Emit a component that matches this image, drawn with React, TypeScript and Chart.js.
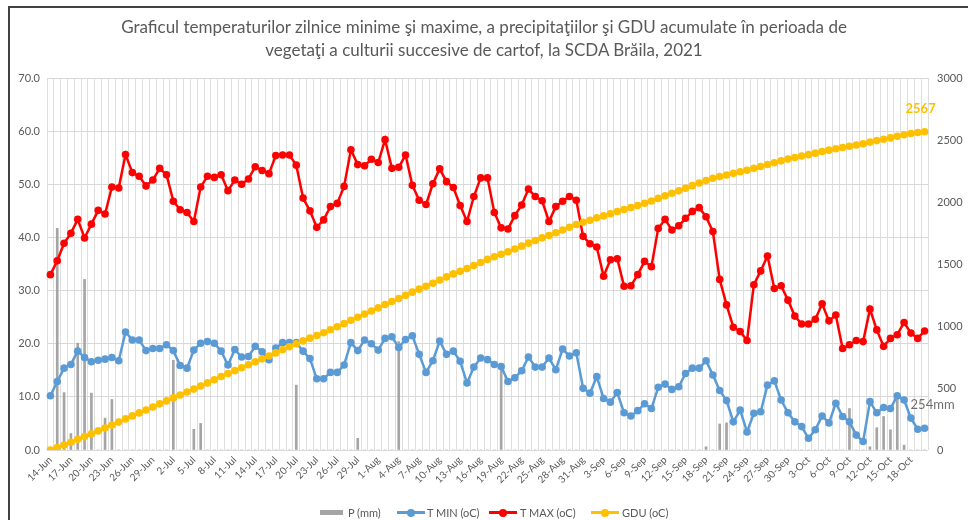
import React, { useEffect, useRef } from "react";
import { Chart, registerables } from "chart.js";

Chart.register(...registerables);

const TITLE_1 =
  "Graficul temperaturilor zilnice minime şi maxime, a precipitaţiilor şi GDU acumulate în perioada de";
const TITLE_2 = "vegetaţi a culturii succesive de cartof, la SCDA Brăila, 2021";

const dates = [
  "14-Jun", "15-Jun", "16-Jun", "17-Jun", "18-Jun", "19-Jun", "20-Jun", "21-Jun", "22-Jun", "23-Jun",
  "24-Jun", "25-Jun", "26-Jun", "27-Jun", "28-Jun", "29-Jun", "30-Jun",
  "1-Jul", "2-Jul", "3-Jul", "4-Jul", "5-Jul", "6-Jul", "7-Jul", "8-Jul", "9-Jul", "10-Jul",
  "11-Jul", "12-Jul", "13-Jul", "14-Jul", "15-Jul", "16-Jul", "17-Jul", "18-Jul", "19-Jul", "20-Jul",
  "21-Jul", "22-Jul", "23-Jul", "24-Jul", "25-Jul", "26-Jul", "27-Jul", "28-Jul", "29-Jul", "30-Jul", "31-Jul",
  "1-Aug", "2-Aug", "3-Aug", "4-Aug", "5-Aug", "6-Aug", "7-Aug", "8-Aug", "9-Aug", "10-Aug",
  "11-Aug", "12-Aug", "13-Aug", "14-Aug", "15-Aug", "16-Aug", "17-Aug", "18-Aug", "19-Aug", "20-Aug",
  "21-Aug", "22-Aug", "23-Aug", "24-Aug", "25-Aug", "26-Aug", "27-Aug", "28-Aug", "29-Aug", "30-Aug", "31-Aug",
  "1-Sep", "2-Sep", "3-Sep", "4-Sep", "5-Sep", "6-Sep", "7-Sep", "8-Sep", "9-Sep", "10-Sep",
  "11-Sep", "12-Sep", "13-Sep", "14-Sep", "15-Sep", "16-Sep", "17-Sep", "18-Sep", "19-Sep", "20-Sep",
  "21-Sep", "22-Sep", "23-Sep", "24-Sep", "25-Sep", "26-Sep", "27-Sep", "28-Sep", "29-Sep", "30-Sep",
  "1-Oct", "2-Oct", "3-Oct", "4-Oct", "5-Oct", "6-Oct", "7-Oct", "8-Oct", "9-Oct", "10-Oct",
  "11-Oct", "12-Oct", "13-Oct", "14-Oct", "15-Oct", "16-Oct", "17-Oct", "18-Oct", "19-Oct", "20-Oct",
];

// P (mm)
const precip = [
  0, 41.7, 10.8, 3.1, 20.1, 32.1, 10.7, 0, 6.0, 9.5, 0, 0, 0, 0, 0, 0, 0,
  0, 16.9, 0, 0, 3.9, 5.0, 0, 0, 0, 0, 0, 0, 0, 0, 0, 0, 0, 0, 0, 12.2, 0, 0, 0, 0, 0, 0, 0, 0, 2.2, 0, 0,
  0, 0, 0, 20.4, 0, 0, 0, 0, 0, 0, 0, 0, 0, 0, 0, 0, 0, 0, 15.4, 0, 0, 0, 0, 0, 0, 0, 0, 0, 0, 0, 0,
  0, 0, 0, 0, 0, 0, 0, 0, 0, 0, 0, 0, 0, 0, 0, 0, 0, 0.6, 0, 4.9, 5.1, 0, 0, 0, 0, 0, 0, 0, 0, 0,
  0, 0, 0, 0, 0, 0, 0, 0, 7.8, 0, 0, 0.6, 4.2, 6.3, 3.8, 10.4, 0.9, 0, 0, 0,
];

// T MIN (oC)
const tMin = [
  10.2, 12.9, 15.4, 16.1, 18.6, 17.4, 16.6, 16.9, 17.1, 17.4, 16.8, 22.2, 20.7, 20.7, 18.7, 19.1, 19.1,
  19.8, 18.7, 15.9, 15.4, 18.8, 20.1, 20.4, 20.1, 18.6, 16.0, 18.9, 17.5, 17.6, 19.5, 18.5, 17.0, 19.2,
  20.2, 20.2, 20.2, 18.6, 17.2, 13.4, 13.4, 14.6, 14.6, 16.0, 20.2, 18.7, 20.7, 20.0,
  18.8, 21.0, 21.3, 19.3, 20.8, 21.5, 18.0, 14.6, 16.8, 20.5, 18.0, 18.6, 16.7, 12.6, 15.6, 17.3, 17.0,
  16.1, 15.7, 12.9, 13.6, 14.9, 17.5, 15.6, 15.6, 17.3, 15.1, 19.0, 17.7, 18.3, 11.6,
  10.7, 13.8, 9.7, 9.0, 10.8, 7.0, 6.4, 7.4, 8.7, 7.8, 11.8, 12.4, 11.4, 11.9, 14.4, 15.4, 15.4, 16.8,
  14.1, 11.2, 9.3, 5.3, 7.5, 3.4, 6.9, 7.2, 12.2, 13.0, 9.4, 7.0,
  5.3, 4.4, 2.2, 3.8, 6.4, 5.1, 8.8, 6.3, 5.3, 2.8, 1.6, 9.1, 7.0, 8.0, 7.8, 10.2, 9.4, 6.0, 3.9, 4.1,
];

// T MAX (oC)
const tMax = [
  33.0, 35.6, 38.9, 40.8, 43.4, 39.9, 42.5, 45.1, 44.4, 49.5, 49.3, 55.6, 52.2, 51.5, 49.7, 50.8, 53.0,
  51.8, 46.8, 45.2, 44.7, 43.0, 49.5, 51.5, 51.3, 51.8, 48.8, 50.8, 50.0, 51.0, 53.3, 52.6, 52.0, 55.4,
  55.5, 55.5, 53.6, 47.4, 45.0, 41.9, 43.3, 45.8, 46.4, 49.6, 56.5, 53.7, 53.5, 54.7,
  54.1, 58.4, 53.0, 53.2, 55.5, 49.8, 47.0, 46.2, 50.1, 52.9, 50.5, 49.4, 46.0, 43.0, 47.7, 51.2, 51.2,
  44.7, 41.8, 41.6, 44.1, 46.1, 49.1, 47.7, 46.9, 43.0, 45.8, 46.8, 47.7, 47.0, 40.2,
  38.8, 38.2, 32.7, 35.8, 36.0, 30.8, 30.9, 33.0, 35.5, 34.5, 41.7, 43.4, 41.4, 42.2, 43.6, 44.9, 45.6,
  43.9, 41.1, 32.1, 27.3, 23.1, 22.3, 20.6, 31.1, 33.7, 36.5, 30.4, 30.9, 28.2,
  25.2, 23.7, 23.7, 24.6, 27.5, 24.3, 25.4, 19.1, 19.8, 20.6, 20.4, 26.5, 22.6, 19.5, 21.0, 21.7, 24.0,
  22.0, 21.0, 22.4,
];

// GDU (oC), accumulated
const gdu = [
  0, 19, 40, 62, 86, 108, 130, 154, 177, 201, 225, 251, 275, 299, 323, 347, 372,
  396, 420, 444, 468, 491, 516, 541, 567, 593, 616, 640, 663, 687, 711, 735, 758, 783,
  808, 833, 857, 880, 902, 923, 946, 970, 994, 1019, 1046, 1071, 1096, 1121,
  1146, 1173, 1197, 1221, 1248, 1273, 1297, 1320, 1345, 1371, 1396, 1420, 1442, 1463, 1487, 1512, 1537,
  1559, 1579, 1599, 1621, 1644, 1668, 1690, 1711, 1730, 1752, 1774, 1796, 1818, 1836,
  1853, 1872, 1888, 1905, 1923, 1939, 1955, 1972, 1990, 2008, 2029, 2050, 2070, 2090, 2111, 2132, 2153,
  2173, 2191, 2205, 2218, 2231, 2244, 2256, 2272, 2286, 2302, 2317, 2332, 2346,
  2359, 2371, 2382, 2394, 2407, 2418, 2430, 2440, 2450, 2460, 2469, 2483, 2495, 2506, 2517, 2530, 2542,
  2552, 2560, 2567,
];

const precipTotalLabel = "254mm";

const seriesNames = ["P (mm)", "T MIN (oC)", "T MAX (oC)", "GDU (oC)"];
const seriesColors = ["#a5a5a5", "#5b9bd5", "#ff0000", "#ffc000"];

const FONT = "Lato, 'Open Sans', sans-serif";
const TEXT = "#595959";

const endLabels = {
  id: "endLabels",
  afterDatasetsDraw(chart: any) {
    const { ctx, scales } = chart;
    const last = gdu.length - 1;
    const x = scales.x.getPixelForValue(last);
    const yG = scales.y1.getPixelForValue(gdu[last]);
    ctx.save();
    ctx.textAlign = "center";
    ctx.textBaseline = "middle";
    ctx.font = `bold 13px ${FONT}`;
    ctx.fillStyle = "#ffc000";
    ctx.fillText(String(gdu[last]), x - 4, yG - 23);
    ctx.font = `13px ${FONT}`;
    ctx.fillStyle = "#707070";
    ctx.fillText(precipTotalLabel, x + 8, scales.y.getPixelForValue(8.5));
    ctx.restore();
  },
};

export default function App() {
  const ref = useRef<HTMLCanvasElement>(null);

  useEffect(() => {
    const chart = new Chart(ref.current as HTMLCanvasElement, {
      type: "bar",
      data: {
        labels: dates,
        datasets: [
          {
            type: "bar",
            label: seriesNames[0],
            data: precip,
            backgroundColor: seriesColors[0],
            borderWidth: 0,
            barThickness: 2,
            yAxisID: "y",
            order: 4,
          },
          {
            type: "line",
            label: seriesNames[1],
            data: tMin,
            borderColor: seriesColors[1],
            backgroundColor: seriesColors[1],
            borderWidth: 2.5,
            pointRadius: 3.8,
            pointBorderWidth: 0,
            tension: 0,
            yAxisID: "y",
            order: 3,
          },
          {
            type: "line",
            label: seriesNames[2],
            data: tMax,
            borderColor: seriesColors[2],
            backgroundColor: seriesColors[2],
            borderWidth: 2.5,
            pointRadius: 3.8,
            pointBorderWidth: 0,
            tension: 0,
            yAxisID: "y",
            order: 2,
          },
          {
            type: "line",
            label: seriesNames[3],
            data: gdu,
            borderColor: seriesColors[3],
            backgroundColor: seriesColors[3],
            borderWidth: 3,
            pointRadius: 3.8,
            pointBorderWidth: 0,
            tension: 0,
            yAxisID: "y1",
            order: 1,
          },
        ],
      } as any,
      options: {
        animation: false,
        responsive: false,
        maintainAspectRatio: false,
        layout: { padding: { top: 78, left: 7, right: 0, bottom: 25 } },
        plugins: {
          legend: { display: false },
          title: { display: false },
          tooltip: { enabled: false },
        },
        scales: {
          x: {
            offset: true,
            grid: { offset: true, color: "#dedede", drawTicks: false, lineWidth: 1 },
            border: { display: false },
            ticks: {
              autoSkip: false,
              minRotation: 45,
              maxRotation: 45,
              padding: 4,
              color: TEXT,
              font: { size: 10, family: FONT },
              callback: (_v: any, i: number) => (i % 3 === 0 ? dates[i] : ""),
            },
            afterFit: (s: any) => {
              s.height = 45;
            },
          },
          y: {
            position: "left",
            min: 0,
            max: 70,
            grid: { color: "#d9d9d9", drawTicks: false },
            border: { display: false },
            ticks: {
              stepSize: 10,
              padding: 7,
              color: TEXT,
              font: { size: 11, family: FONT },
              callback: (v: any) => Number(v).toFixed(1),
            },
            afterFit: (s: any) => {
              s.width = 40;
            },
          },
          y1: {
            position: "right",
            min: 0,
            max: 3000,
            grid: { display: false, drawTicks: false },
            border: { display: false },
            ticks: {
              stepSize: 500,
              padding: 9,
              color: TEXT,
              font: { size: 11, family: FONT },
              callback: (v: any) => String(v),
            },
            afterFit: (s: any) => {
              s.width = 40;
            },
          },
        },
      } as any,
      plugins: [endLabels],
    });
    return () => chart.destroy();
  }, []);

  const legendText: React.CSSProperties = {
    position: "absolute",
    top: 505,
    fontSize: 11,
    lineHeight: "16px",
    color: TEXT,
    whiteSpace: "nowrap",
  };
  const lineSym = (left: number, color: string) => (
    <div style={{ position: "absolute", left, top: 511, width: 28, height: 3, background: color }}>
      <div
        style={{
          position: "absolute",
          left: 10,
          top: -2.5,
          width: 8,
          height: 8,
          borderRadius: 4,
          background: color,
        }}
      />
    </div>
  );

  return (
    <div
      style={{
        position: "absolute",
        left: 0,
        top: 0,
        width: 968,
        height: 520,
        overflow: "hidden",
        background: "#ffffff",
        fontFamily: FONT,
      }}
    >
      <div
        style={{
          position: "absolute",
          left: 8,
          top: 6,
          width: 980,
          height: 540,
          borderLeft: "2px solid #404040",
          borderTop: "2px solid #404040",
        }}
      />
      <canvas
        ref={ref}
        width={968}
        height={520}
        style={{ position: "absolute", left: 0, top: 0, width: 968, height: 520 }}
      />
      <div
        style={{
          position: "absolute",
          left: 0,
          top: 15,
          width: 968,
          textAlign: "center",
          fontSize: 17,
          lineHeight: "23px",
          color: TEXT,
        }}
      >
        <div>{TITLE_1}</div>
        <div>{TITLE_2}</div>
      </div>
      <div style={{ position: "absolute", left: 320, top: 510, width: 23, height: 5, background: seriesColors[0] }} />
      <div style={{ ...legendText, left: 348 }}>{seriesNames[0]}</div>
      {lineSym(397, seriesColors[1])}
      <div style={{ ...legendText, left: 427 }}>{seriesNames[1]}</div>
      {lineSym(489, seriesColors[2])}
      <div style={{ ...legendText, left: 520 }}>{seriesNames[2]}</div>
      {lineSym(591, seriesColors[3])}
      <div style={{ ...legendText, left: 622 }}>{seriesNames[3]}</div>
    </div>
  );
}
